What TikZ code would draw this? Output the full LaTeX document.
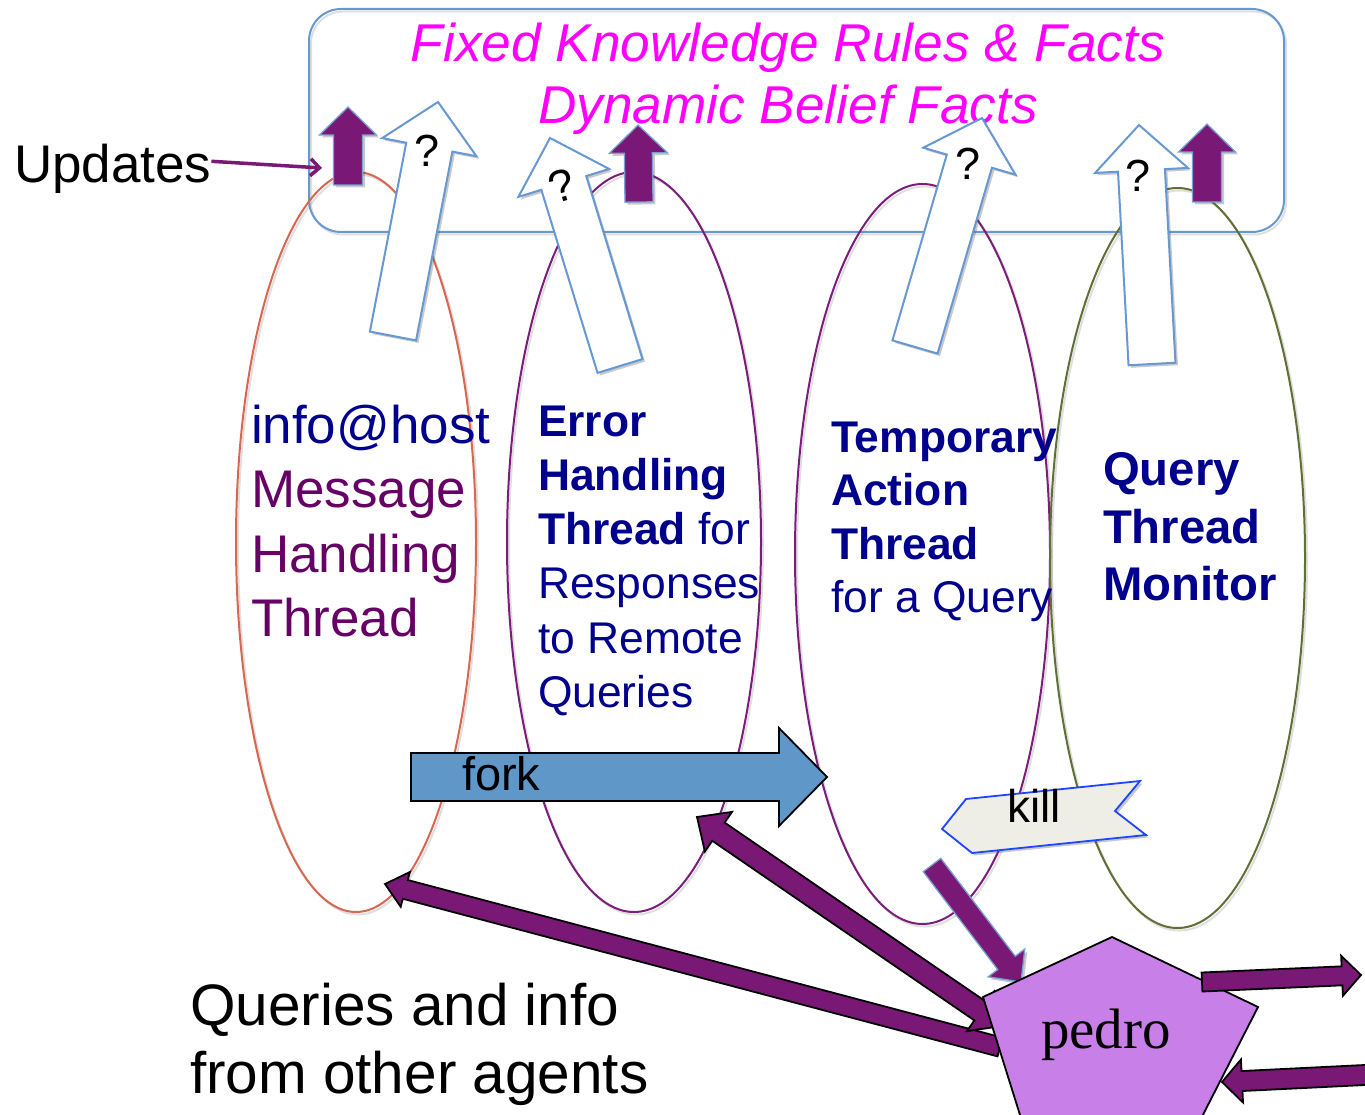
\documentclass[tikz,border=0pt]{standalone}
\usepackage{fontspec}
\setmainfont{Liberation Sans}
\newfontfamily\pedrofont{Liberation Serif}
\usetikzlibrary{calc,shadows,arrows.meta,shapes.geometric}

\definecolor{boxblue}{RGB}{104,152,210}
\definecolor{titlemag}{RGB}{255,0,255}
\definecolor{plum}{RGB}{122,24,118}
\definecolor{navytext}{RGB}{0,0,140}
\definecolor{msgpurple}{RGB}{102,0,102}
\definecolor{ellred}{RGB}{214,104,82}
\definecolor{ellpurple}{RGB}{122,30,122}
\definecolor{ellolive}{RGB}{96,112,52}
\definecolor{forkblue}{RGB}{96,151,201}
\definecolor{killfill}{RGB}{238,238,230}
\definecolor{killline}{RGB}{30,70,255}
\definecolor{pedrofill}{RGB}{200,128,232}
\definecolor{thinblue}{RGB}{120,160,210}

% block arrow: #1 style, #2 base, #3 tip, #4 half shaft, #5 half head, #6 head length
\newcommand\fatarrow[6]{%
  \coordinate (#3-h) at ($(#3)!#6!(#2)$);
  \draw[#1] ($(#2)!#4!90:(#3)$) -- ($(#3-h)!#4!90:(#3)$) -- ($(#3-h)!#5!90:(#3)$)
    -- (#3) -- ($(#3-h)!#5!-90:(#3)$) -- ($(#3-h)!#4!-90:(#3)$)
    -- ($(#2)!#4!-90:(#3)$) -- cycle;}
% double-headed block arrow between tips #2 and #3
\newcommand\fatdarrow[6]{%
  \coordinate (#2-h) at ($(#2)!#6!(#3)$);
  \coordinate (#3-h) at ($(#3)!#6!(#2)$);
  \draw[#1] (#2) -- ($(#2-h)!#5!90:(#3)$) -- ($(#2-h)!#4!90:(#3)$)
    -- ($(#3-h)!#4!-90:(#2)$) -- ($(#3-h)!#5!-90:(#2)$) -- (#3)
    -- ($(#3-h)!#5!90:(#2)$) -- ($(#3-h)!#4!90:(#2)$)
    -- ($(#2-h)!#4!-90:(#3)$) -- ($(#2-h)!#5!-90:(#3)$) -- cycle;}

\begin{document}
\begin{tikzpicture}[x=1pt,y=-1pt,
  every node/.style={inner sep=0pt,outer sep=0pt},
  softshadow/.style={drop shadow={shadow xshift=2.5pt,shadow yshift=-2.5pt,opacity=0.3,fill=black!70}},
  lineshadow/.style={draw=black!50,opacity=.25,line width=2pt,transform canvas={shift={(2pt,-2.5pt)}}},
  thread/.style={ellipse,line width=2pt},
  title/.style={text=titlemag,font=\fontsize{53.2}{60}\selectfont\itshape},
  lineA/.style={anchor=base west,font=\fontsize{53}{62}\selectfont},
  lineB/.style={anchor=base west,text=navytext,font=\fontsize{44.4}{53}\selectfont},
  lineC/.style={anchor=base west,text=navytext,font=\fontsize{47.3}{56}\selectfont\bfseries},
  updarrow/.style={fill=plum,draw=thinblue,line width=1.3pt,softshadow},
  qarrow/.style={fill=white,draw=boxblue,line width=2pt,softshadow},
  pedroarrow/.style={fill=plum,draw=black,line width=1.8pt},
  qmark/.style={font=\fontsize{45}{45}\selectfont},
  bigtext/.style={anchor=base west,font=\fontsize{58.5}{68}\selectfont}]

\useasboundingbox (0,0) rectangle (1365,1115);
\clip (0,0) rectangle (1365,1115);

% knowledge base
\draw[lineshadow,rounded corners=32pt] (309,9) rectangle (1284,232);
\node[draw=boxblue,line width=2pt,rounded corners=32pt,minimum width=975pt,minimum height=223pt] (kb) at (796.5,120.5) {};
\node[title,anchor=base] (kb1) at (788,62) {Fixed Knowledge Rules \& Facts};
\node[title,anchor=base] (kb2) at (788,124) {Dynamic Belief Facts};

% thread ellipses
\foreach \cx/\cy/\rx in {356/542/120,634/542/127,922.5/554/127.5,1177.5/558/127.5}
  \draw[lineshadow] (\cx,\cy) ellipse [x radius=\rx pt,y radius=370pt];
\node[thread,draw=ellred,minimum width=240pt,minimum height=740pt] (e1) at (356,542) {};
\node[thread,draw=ellpurple,minimum width=254pt,minimum height=740pt] (e2) at (634,542) {};
\node[thread,draw=ellpurple,minimum width=255pt,minimum height=740pt] (e3) at (922.5,554) {};
\node[thread,draw=ellolive,minimum width=255pt,minimum height=740pt] (e4) at (1177.5,558) {};

% thread labels
\node[lineA,text=navytext] (t1a) at (251,443) {info@host};
\node[lineA,text=msgpurple] (t1b) at (251,507) {Message};
\node[lineA,text=msgpurple] (t1c) at (251,572) {Handling};
\node[lineA,text=msgpurple] (t1d) at (251,636) {Thread};

\node[lineB] (t2a) at (538,436) {\bfseries Error};
\node[lineB] (t2b) at (538,490) {\bfseries Handling};
\node[lineB] (t2c) at (538,544) {\textbf{Thread} for};
\node[lineB] (t2d) at (538,598) {Responses};
\node[lineB] (t2e) at (538,653) {to Remote};
\node[lineB] (t2f) at (538,707) {Queries};

\node[lineB] (t3a) at (831,452) {\bfseries Temporary};
\node[lineB] (t3b) at (831,505) {\bfseries Action};
\node[lineB] (t3c) at (831,559) {\bfseries Thread};
\node[lineB] (t3d) at (831,612) {for a Query};

\node[lineC] (t4a) at (1103,485) {Query};
\node[lineC] (t4b) at (1103,543) {Thread};
\node[lineC] (t4c) at (1103,600) {Monitor};

% belief updates
\coordinate (p1b) at (348,185);  \coordinate (p1t) at (348,107);
\coordinate (p2b) at (639,202);  \coordinate (p2t) at (638,125);
\coordinate (p3b) at (1207,202); \coordinate (p3t) at (1207,124);
\fatarrow{updarrow}{p1b}{p1t}{14.5pt}{28.5pt}{28pt}
\fatarrow{updarrow}{p2b}{p2t}{14pt}{29pt}{28pt}
\fatarrow{updarrow}{p3b}{p3t}{14.5pt}{28.5pt}{28pt}

% queries to the knowledge base
\coordinate (q1b) at (393,336);  \coordinate (q1t) at (438,102);
\coordinate (q2b) at (620,366);  \coordinate (q2t) at (550,138);
\coordinate (q3b) at (915,347);  \coordinate (q3t) at (982,118);
\coordinate (q4b) at (1152,364); \coordinate (q4t) at (1139,125);
\fatarrow{qarrow}{q1b}{q1t}{23.5pt}{48pt}{46pt}
\fatarrow{qarrow}{q2b}{q2t}{23.5pt}{47.5pt}{47pt}
\fatarrow{qarrow}{q3b}{q3t}{23.5pt}{48pt}{45pt}
\fatarrow{qarrow}{q4b}{q4t}{23.5pt}{46.5pt}{45.5pt}
\node[qmark] (qm1) at (427,151) {?};
\node[qmark,rotate=17] (qm2) at (562,186) {?};
\node[qmark] (qm3) at (968,164) {?};
\node[qmark] (qm4) at (1138,176) {?};

% fork
\coordinate (fkb) at (411,777); \coordinate (fkt) at (827,777);
\fatarrow{fill=forkblue,draw=black,line width=1.8pt}{fkb}{fkt}{24pt}{49pt}{48pt}
\node[anchor=base west,font=\fontsize{47}{50}\selectfont] (fork) at (462,790) {fork};

% kill
\draw[fill=killfill,draw=killline,line width=1.8pt,softshadow]
  (942,829) -- (966,799) -- (1140,781) -- (1115,811) -- (1146,835) -- (972,853) -- cycle;
\node[anchor=base west,font=\fontsize{46}{50}\selectfont] (kill) at (1007,822) {kill};

% message traffic through pedro
\coordinate (l1b) at (1000,1047); \coordinate (l1t) at (385,884);
\fatarrow{pedroarrow}{l1b}{l1t}{9.7pt}{18pt}{21pt}
\coordinate (l2a) at (697,817); \coordinate (l2b) at (1002,1026);
\fatdarrow{pedroarrow}{l2a}{l2b}{11pt}{24pt}{26pt}
\coordinate (k2b) at (932,865); \coordinate (k2t) at (1021,982);
\fatarrow{updarrow}{k2b}{k2t}{11pt}{23pt}{24pt}

\draw[fill=pedrofill,draw=black,line width=1.8pt]
  (1112,937) -- (1258,1007) -- (1185,1150) -- (1031,1150) -- (983,997) -- cycle;
\node[anchor=base,font=\pedrofont\fontsize{57}{60}\selectfont] (pedro) at (1106,1048) {pedro};

\coordinate (r1b) at (1202,982); \coordinate (r1t) at (1361,975);
\fatarrow{pedroarrow}{r1b}{r1t}{9.5pt}{20pt}{19pt}
\coordinate (r2b) at (1385,1074); \coordinate (r2t) at (1222,1082);
\fatarrow{pedroarrow}{r2b}{r2t}{10pt}{21.5pt}{20pt}

% outside labels
\node[anchor=base west,font=\fontsize{53}{60}\selectfont] (upd) at (14,183) {Updates};
\coordinate (updto) at (322,168);
\draw[plum,line width=3.5pt,-{Straight Barb[length=9pt,width=17pt]}] ([yshift=8pt]upd.east) -- (updto);
\node[bigtext] (qa) at (190,1025) {Queries and info};
\node[bigtext] (qb) at (190,1093) {from other agents};
\end{tikzpicture}
\end{document}
